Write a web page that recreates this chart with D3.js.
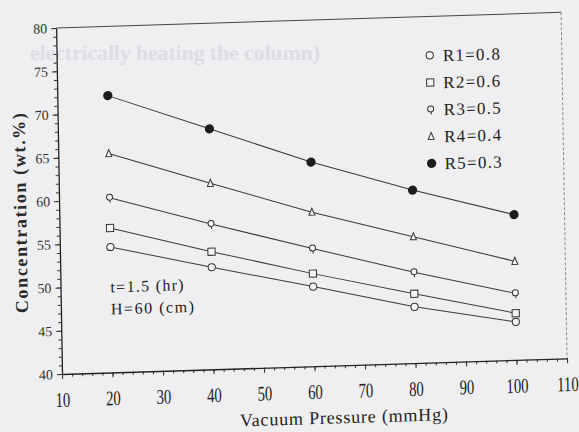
<!DOCTYPE html>
<html>
<head>
<meta charset="utf-8">
<script src="https://cdn.jsdelivr.net/npm/d3@7"></script>
<style>
  body { margin: 0; background: #efeff1; }
  svg { display: block; }
  svg text { font-family: "Liberation Serif", "DejaVu Serif", serif; }
</style>
</head>
<body>
<div id="chart"></div>
<script>
// chart data
const pressure = [20, 40, 60, 80, 100];
const r1 = [54.5, 51.8, 49.2, 46.5, 44.4];
const r2 = [56.7, 53.6, 50.7, 48.0, 45.4];
const r3 = [60.2, 56.8, 53.6, 50.5, 47.7];
const r4 = [65.3, 61.5, 57.8, 54.6, 51.4];
const r5 = [72.0, 67.8, 63.6, 60.0, 56.8];
const seriesNames = ['R1=0.8', 'R2=0.6', 'R3=0.5', 'R4=0.4', 'R5=0.3'];
const xTicks = [10, 20, 30, 40, 50, 60, 70, 80, 90, 100, 110];
const yTicks = [40, 45, 50, 55, 60, 65, 70, 75, 80];

const series = [r1, r2, r3, r4, r5].map((vals, i) => ({
  name: seriesNames[i],
  shape: ['circle', 'square', 'pin', 'triangle', 'dot'][i],
  points: vals.map((v, j) => ({x: pressure[j], y: v}))
}));

const svgWidth = 579, svgHeight = 432;
const width = 505, height = 346;
const serif = '"Liberation Serif", "DejaVu Serif", serif';

const svg = d3.select('#chart').append('svg')
  .attr('width', svgWidth)
  .attr('height', svgHeight);

svg.append('rect').attr('width', svgWidth).attr('height', svgHeight).attr('fill', '#efeff1');

// faint show-through from the other side of the scanned page
svg.append('text')
  .attr('x', 30).attr('y', 60)
  .attr('font-size', 22).attr('font-weight', 'bold')
  .attr('fill', '#dddde3')
  .attr('textLength', 290)
  .text('electrically heating the column)');

// the scan is slightly skewed, so the plot group is too
const g = svg.append('g')
  .attr('transform', `translate(62,374) matrix(1,-0.031,0.017,1,0,0) translate(0,${-height})`);

const x = d3.scaleLinear().domain([10, 110]).range([0, width]);
const y = d3.scaleLinear().domain([40, 80]).range([height, 0]);

// frame (top + right)
g.append('line').attr('x1', 0).attr('x2', width).attr('y1', 0).attr('y2', 0)
  .attr('stroke', '#444').attr('stroke-width', 1);
g.append('line').attr('x1', width).attr('x2', width).attr('y1', 0).attr('y2', height)
  .attr('stroke', '#888').attr('stroke-width', 1).attr('stroke-dasharray', '3,2');

// minor ticks
g.append('g')
  .attr('transform', `translate(0,${height})`)
  .call(d3.axisBottom(x).tickValues(d3.range(10, 111, 2)).tickSize(3).tickFormat(''))
  .call(a => a.select('.domain').remove())
  .selectAll('line').attr('stroke', '#333');
g.append('g')
  .call(d3.axisLeft(y).tickValues(d3.range(40, 81, 1)).tickSize(3).tickFormat(''))
  .call(a => a.select('.domain').remove())
  .selectAll('line').attr('stroke', '#333');

// major axes
const xAxis = g.append('g')
  .attr('transform', `translate(0,${height})`)
  .call(d3.axisBottom(x).tickValues(xTicks).tickSize(5).tickSizeOuter(0).tickPadding(13));
xAxis.attr('font-family', serif);
xAxis.selectAll('text')
  .style('font-family', serif)
  .attr('font-size', 21)
  .attr('fill', '#222')
  .attr('transform', 'scale(0.7,1)');

const yAxis = g.append('g')
  .call(d3.axisLeft(y).tickValues(yTicks).tickSize(5).tickSizeOuter(0).tickPadding(4));
yAxis.attr('font-family', serif);
yAxis.selectAll('text')
  .style('font-family', serif)
  .attr('font-size', 14)
  .attr('fill', '#333');

g.selectAll('.domain').attr('stroke', '#222').attr('stroke-width', 1.3);
g.selectAll('.tick line').attr('stroke', '#333');

// lines
const line = d3.line().x(d => x(d.x)).y(d => y(d.y));
g.selectAll('.series-line')
  .data(series)
  .enter()
  .append('path')
  .attr('class', 'series-line')
  .attr('d', d => line(d.points))
  .attr('fill', 'none')
  .attr('stroke', '#3a3a3a')
  .attr('stroke-width', 1);

// marker drawing
function drawMarker(sel, shape) {
  if (shape === 'circle') {
    sel.append('circle').attr('r', 3.6).attr('fill', '#f4f4f4').attr('stroke', '#333').attr('stroke-width', 1);
  } else if (shape === 'square') {
    sel.append('rect').attr('x', -3.6).attr('y', -3.6).attr('width', 7.2).attr('height', 7.2)
      .attr('fill', '#f4f4f4').attr('stroke', '#333').attr('stroke-width', 1);
  } else if (shape === 'pin') {
    sel.append('circle').attr('cy', -0.5).attr('r', 3).attr('fill', '#f4f4f4').attr('stroke', '#333').attr('stroke-width', 1);
    sel.append('line').attr('x1', 0.5).attr('x2', 0.5).attr('y1', 2.5).attr('y2', 5).attr('stroke', '#333');
  } else if (shape === 'triangle') {
    sel.append('path').attr('d', 'M0,-4L3,3L-3,3Z').attr('fill', '#f4f4f4').attr('stroke', '#333').attr('stroke-width', 1);
  } else {
    sel.append('circle').attr('r', 4.6).attr('fill', '#1c1c1c');
  }
}

series.forEach(s => {
  g.selectAll(null)
    .data(s.points)
    .enter()
    .append('g')
    .attr('transform', d => `translate(${x(d.x)},${y(d.y)})`)
    .each(function () { drawMarker(d3.select(this), s.shape); });
});

// legend
const legend = g.append('g').attr('transform', 'translate(373,39)');
series.forEach((s, i) => {
  const row = legend.append('g').attr('transform', `translate(0,${i * 27})`);
  drawMarker(row, s.shape);
  row.append('text')
    .attr('x', 13).attr('dy', '0.36em')
    .attr('font-size', 17)
    .attr('fill', '#222')
    .attr('textLength', 57)
    .text(s.name);
});

// condition note
g.append('text').attr('x', 50).attr('y', 266)
  .attr('font-size', 16).attr('fill', '#222').attr('textLength', 73)
  .text('t=1.5 (hr)');
g.append('text').attr('x', 50).attr('y', 288)
  .attr('font-size', 16).attr('fill', '#222').attr('textLength', 83)
  .text('H=60 (cm)');

// axis titles
g.append('text')
  .attr('x', 281).attr('y', 404)
  .attr('text-anchor', 'middle')
  .attr('font-size', 18).attr('fill', '#222')
  .attr('textLength', 208)
  .text('Vacuum Pressure (mmHg)');

g.append('text')
  .attr('transform', 'translate(-33,184) rotate(-90)')
  .attr('text-anchor', 'middle')
  .attr('font-size', 18).attr('font-weight', 'bold').attr('fill', '#2a2a2a')
  .attr('textLength', 200)
  .text('Concentration (wt.%)');
</script>
</body>
</html>
